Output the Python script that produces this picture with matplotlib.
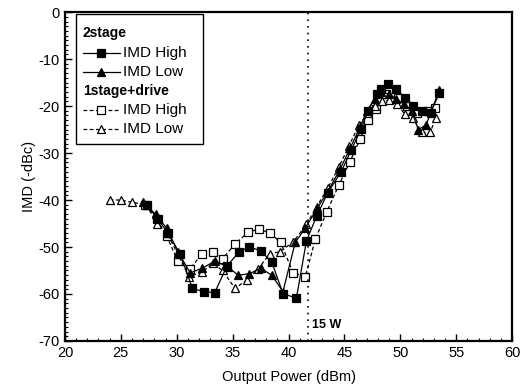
import matplotlib
matplotlib.use('Agg')
import matplotlib.pyplot as plt
from matplotlib.lines import Line2D
from matplotlib.patches import Rectangle
from matplotlib.ticker import MultipleLocator

plt.rcParams['font.family'] = ['Liberation Sans', 'DejaVu Sans']
plt.rcParams['axes.unicode_minus'] = False

# ---- data ----
x_2s_high = [27.3, 28.3, 29.2, 30.3, 31.4, 32.4, 33.4, 34.5, 35.6, 36.5, 37.5, 38.5,
             39.5, 40.7, 41.6, 42.5, 43.5, 44.7, 45.6, 46.5, 47.1, 47.9, 48.3, 48.9,
             49.6, 50.4, 51.1, 51.9, 52.7, 53.5]
y_2s_high = [-41, -44, -47, -51.5, -58.8, -59.5, -59.7, -54, -51, -50, -50.8, -53.2,
             -59.9, -60.9, -48.7, -43.5, -38.5, -34, -29.4, -24.8, -21, -17.5, -16.3, -15.3,
             -16.3, -18.2, -20, -21, -21.4, -17.2]

x_2s_low = [27.0, 28.1, 29.1, 30.1, 31.2, 32.3, 33.4, 34.6, 35.5, 36.5, 37.5, 38.5,
            39.5, 40.6, 41.5, 42.5, 43.5, 44.6, 45.5, 46.4, 47.0, 47.7, 48.3, 49.0,
            49.6, 50.3, 51.0, 51.6, 52.3, 53.5]
y_2s_low = [-40.5, -43, -46, -51, -55.5, -54.5, -53, -54.3, -56, -55.7, -54.5, -56,
            -59.5, -49, -46, -42, -38.2, -33.5, -29, -24.5, -21, -18.5, -17, -17.5,
            -18.5, -19.5, -21, -25, -24, -16.5]

x_1s_high = [27.2, 28.2, 29.1, 30.1, 31.2, 32.25, 33.2, 34.1, 35.2, 36.4, 37.35, 38.3,
             39.3, 40.4, 41.5, 42.4, 43.4, 44.5, 45.5, 46.4, 47.1, 47.8, 48.7, 49.8,
             50.6, 51.5, 52.5, 53.1]
y_1s_high = [-41, -44, -47.7, -53, -54.6, -51.5, -51, -52.5, -49.4, -46.8, -46.2, -47,
             -49, -55.5, -56.3, -48.3, -42.6, -36.8, -31.8, -27, -23, -20.6, -17.5, -18.2,
             -20, -21.5, -21, -20.4]

x_1s_low = [24.0, 25.0, 26.0, 27.3, 28.2, 29.1, 30.1, 31.1, 32.3, 33.2, 34.1, 35.2,
            36.3, 37.3, 38.3, 39.2, 40.4, 41.6, 42.5, 43.5, 44.5, 45.4, 46.3, 47.1,
            47.7, 48.4, 49.0, 49.7, 50.4, 51.1, 51.9, 52.65, 53.2]
y_1s_low = [-40, -40, -40.5, -41, -45, -47, -51.5, -56.3, -55.3, -53.5, -55, -58.8,
            -57, -54.6, -51.5, -51, -49, -45.2, -41.5, -37.5, -33, -28.5, -24, -21.5,
            -20, -19, -18.8, -19.6, -21.7, -22.5, -25.6, -25.6, -22.5]

p_15w = 41.76  # 15 W in dBm

# ---- figure ----
fig = plt.figure(figsize=(5.28, 3.91), dpi=100)
ax = fig.add_axes([0.123, 0.128, 0.847, 0.841])

K = 'black'
common = dict(color=K, linewidth=0.9, markersize=6, markeredgewidth=0.9)
ax.plot(x_1s_high, y_1s_high, linestyle=(0, (3, 2)), marker='s',
        markerfacecolor='white', **common)
ax.plot(x_1s_low, y_1s_low, linestyle=(0, (3, 2)), marker='^',
        markerfacecolor='white', **common)
ax.plot(x_2s_low, y_2s_low, linestyle='-', marker='^', markerfacecolor=K, **common)
ax.plot(x_2s_high, y_2s_high, linestyle='-', marker='s', markerfacecolor=K, **common)

ax.axvline(p_15w, color=K, linestyle=(0, (1, 3)), linewidth=1.2)
ax.text(p_15w + 0.35, -66.5, '15 W', fontsize=9, fontweight='bold', ha='left', va='center')

ax.set_xlim(20, 60)
ax.set_ylim(-70, 0)
ax.xaxis.set_major_locator(MultipleLocator(5))
ax.xaxis.set_minor_locator(MultipleLocator(1))
ax.yaxis.set_major_locator(MultipleLocator(10))
ax.yaxis.set_minor_locator(MultipleLocator(1))
ax.tick_params(which='major', direction='in', length=5, width=1.0, labelsize=10.5)
ax.tick_params(which='minor', direction='in', length=2.5, width=0.8)
for s in ax.spines.values():
    s.set_linewidth(1.6)

ax.set_xlabel('Output Power (dBm)', fontsize=10.5, labelpad=7)
ax.set_ylabel('IMD (-dBc)', fontsize=10.5, labelpad=2)

# ---- legend drawn by hand (headers flush left) ----
ax.add_patch(Rectangle((0.025, 0.60), 0.284, 0.395, transform=ax.transAxes,
                       facecolor='white', edgecolor=K, linewidth=1.0, zorder=5))
rows = [
    ('2stage', None),
    ('IMD High', dict(ls='-', marker='s', mfc=K)),
    ('IMD Low', dict(ls='-', marker='^', mfc=K)),
    ('1stage+drive', None),
    ('IMD High', dict(ls=(0, (3, 2)), marker='s', mfc='white')),
    ('IMD Low', dict(ls=(0, (3, 2)), marker='^', mfc='white')),
]
y0, dy = 0.935, 0.058
for i, (label, st) in enumerate(rows):
    yy = y0 - i * dy
    if st is None:
        ax.text(0.040, yy, label, transform=ax.transAxes, fontsize=10,
                fontweight='bold', va='center', ha='left', zorder=6)
    else:
        ax.add_line(Line2D([0.040, 0.123], [yy, yy], transform=ax.transAxes,
                           color=K, linewidth=0.9, linestyle=st['ls'], zorder=6))
        ax.add_line(Line2D([0.0815], [yy], transform=ax.transAxes, color=K,
                           marker=st['marker'], markerfacecolor=st['mfc'],
                           markersize=6, markeredgewidth=0.9, zorder=7))
        ax.text(0.130, yy, label, transform=ax.transAxes, fontsize=11,
                va='center', ha='left', zorder=6)

fig.savefig('out.png', dpi=100, facecolor='white')
